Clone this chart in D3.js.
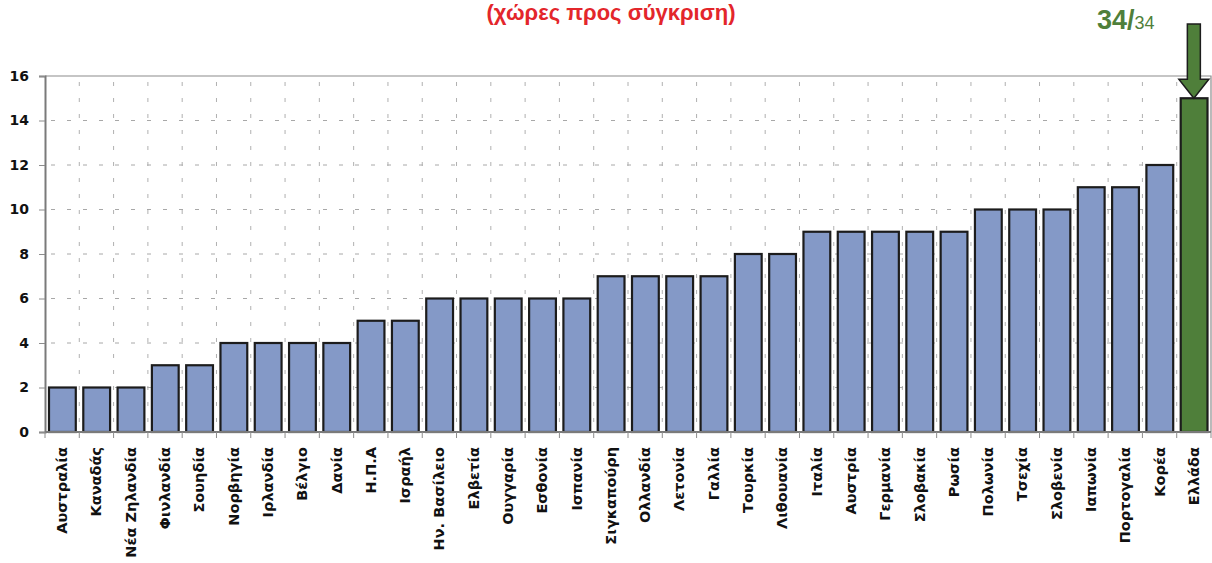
<!DOCTYPE html>
<html>
<head>
<meta charset="utf-8">
<script src="https://cdn.jsdelivr.net/npm/d3@7"></script>
<style>
  body { margin: 0; background: #fff; }
  svg { display: block; }
</style>
</head>
<body>
<div id="chart"></div>
<script>
// countries, sorted as in the source
let countries = [
    'Αυστραλία', 'Καναδάς', 'Νέα Ζηλανδία', 'Φινλανδία', 'Σουηδία', 'Νορβηγία',
    'Ιρλανδία', 'Βέλγιο', 'Δανία', 'Η.Π.Α', 'Ισραήλ', 'Ην. Βασίλειο', 'Ελβετία',
    'Ουγγαρία', 'Εσθονία', 'Ισπανία', 'Σιγκαπούρη', 'Ολλανδία', 'Λετονία', 'Γαλλία',
    'Τουρκία', 'Λιθουανία', 'Ιταλία', 'Αυστρία', 'Γερμανία', 'Σλοβακία', 'Ρωσία',
    'Πολωνία', 'Τσεχία', 'Σλοβενία', 'Ιαπωνία', 'Πορτογαλία', 'Κορέα', 'Ελλάδα'
];
let values = [
    2, 2, 2, 3, 3, 4,
    4, 4, 4, 5, 5, 6, 6,
    6, 6, 6, 7, 7, 7, 7,
    8, 8, 9, 9, 9, 9, 9,
    10, 10, 10, 11, 11, 12, 15
];
let yTicks = [0, 2, 4, 6, 8, 10, 12, 14, 16];
let highlight = 'Ελλάδα';
let title = '(χώρες προς σύγκριση)';
let rankMain = '34/';
let rankOf = '34';

let chart_width = 1212;
let chart_height = 563;
let plotLeft = 45, plotRight = 1211, plotTop = 76, plotBottom = 432;
let labelFont = 'DejaVu Sans, Verdana, sans-serif';

let data = countries.map(function (c, i) {
    return { name: c, value: values[i] };
});

let svg = d3.select('#chart')
    .append('svg')
    .attr('width', chart_width)
    .attr('height', chart_height)
    .style('font-family', 'Liberation Sans, Arial, sans-serif');

// one slot per country, bars sit inside each slot
let slot = d3.scaleBand()
    .domain(countries)
    .range([plotLeft, plotRight]);

let yScale = d3.scaleLinear()
    .domain([0, 16])
    .range([plotBottom, plotTop]);

let boundaries = d3.range(0, countries.length + 1).map(i => plotLeft + i * slot.step());

// gridlines
let grid = svg.append('g');
grid.selectAll('line.h')
    .data(yTicks.filter(d => d > 0 && d < 16))
    .enter()
    .append('line')
    .attr('x1', plotLeft + 2).attr('x2', plotRight)
    .attr('y1', d => yScale(d)).attr('y2', d => yScale(d))
    .attr('stroke', '#a8a8a8')
    .attr('stroke-dasharray', '4,12')
    .attr('stroke-dashoffset', -4);

grid.selectAll('line.v')
    .data(boundaries.slice(1, -1))
    .enter()
    .append('line')
    .attr('x1', d => d).attr('x2', d => d)
    .attr('y1', plotTop).attr('y2', plotBottom)
    .attr('stroke', '#b0b0b0')
    .attr('stroke-dasharray', '4,12')
    .attr('stroke-dashoffset', -6);

// frame top and right
svg.append('path')
    .attr('d', 'M' + plotLeft + ',' + plotTop + 'H' + plotRight + 'V' + plotBottom)
    .attr('fill', 'none')
    .attr('stroke', '#8c8c8c')
    .attr('stroke-width', 1.2);

// bars
svg.append('g')
    .selectAll('rect')
    .data(data)
    .enter()
    .append('rect')
    .attr('x', d => slot(d.name) + 4)
    .attr('width', slot.step() - 7.5)
    .attr('y', d => yScale(d.value))
    .attr('height', d => plotBottom - yScale(d.value))
    .attr('fill', d => d.name === highlight ? '#4f7f3a' : '#8499c7')
    .attr('stroke', '#1c1c1c')
    .attr('stroke-width', 2.2);

// y axis
let yAxis = d3.axisLeft(yScale)
    .tickValues(yTicks)
    .tickSize(6)
    .tickPadding(10);

let gy = svg.append('g')
    .attr('transform', 'translate(' + plotLeft + ',0)')
    .call(yAxis);
gy.select('.domain').attr('stroke', '#7a7a7a').attr('stroke-width', 2);
gy.selectAll('.tick line').attr('stroke', '#8c8c8c');
gy.selectAll('.tick text')
    .attr('font-size', 14)
    .attr('font-weight', 'bold')
    .attr('fill', '#111')
    .style('font-family', labelFont);

// x axis
let gx = svg.append('g')
    .attr('transform', 'translate(0,' + plotBottom + ')');
gx.append('line')
    .attr('x1', plotLeft).attr('x2', plotRight)
    .attr('stroke', '#7a7a7a').attr('stroke-width', 2);
gx.selectAll('line.tick')
    .data(boundaries)
    .enter()
    .append('line')
    .attr('x1', d => d).attr('x2', d => d)
    .attr('y1', 0).attr('y2', 6)
    .attr('stroke', '#8c8c8c');
gx.selectAll('text')
    .data(countries)
    .enter()
    .append('text')
    .attr('transform', d => 'translate(' + (slot(d) + slot.step() / 2 + 5) + ',15) rotate(-90)')
    .attr('text-anchor', 'end')
    .attr('font-size', 14.5)
    .attr('font-weight', 'bold')
    .attr('fill', '#111')
    .style('font-family', labelFont)
    .text(d => d);

// title
svg.append('text')
    .attr('x', 611)
    .attr('y', 20)
    .attr('text-anchor', 'middle')
    .attr('font-size', 22)
    .attr('font-weight', 'bold')
    .attr('fill', '#e3262b')
    .text(title);

// rank label
let rank = svg.append('text')
    .attr('x', 1097)
    .attr('y', 29)
    .attr('fill', '#4f7f3a');
rank.append('tspan')
    .attr('font-size', 27)
    .attr('font-weight', 'bold')
    .text(rankMain);
rank.append('tspan')
    .attr('font-size', 18)
    .text(rankOf);

// arrow down onto the highlighted bar
let cx = slot(highlight) + slot.step() / 2;
let tipY = yScale(values[countries.indexOf(highlight)]);
svg.append('path')
    .attr('d', 'M' + (cx - 6.5) + ',24 H' + (cx + 6.5) + ' V' + (tipY - 19) +
        ' H' + (cx + 15) + ' L' + cx + ',' + tipY + ' L' + (cx - 15) + ',' + (tipY - 19) +
        ' H' + (cx - 6.5) + ' Z')
    .attr('fill', '#4f7f3a')
    .attr('stroke', '#1c1c1c')
    .attr('stroke-width', 1.5);
</script>
</body>
</html>
